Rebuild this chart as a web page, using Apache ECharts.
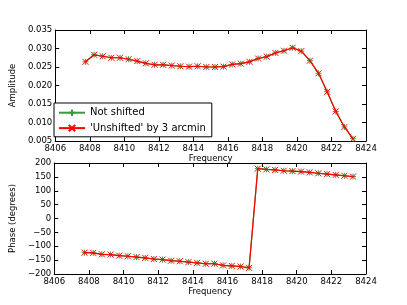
<!DOCTYPE html>
<html><head><meta charset="utf-8">
<script src="https://cdn.jsdelivr.net/npm/echarts@6/dist/echarts.min.js"></script>
<style>html,body{margin:0;padding:0;background:#fff}#c{width:407px;height:305px}</style>
</head><body><div id="c"></div>
<script>
const freq = [8407.75,8408.25,8408.75,8409.25,8409.75,8410.25,8410.75,8411.25,8411.75,8412.25,8412.75,8413.25,8413.75,8414.25,8414.75,8415.25,8415.75,8416.25,8416.75,8417.25,8417.75,8418.25,8418.75,8419.25,8419.75,8420.25,8420.75,8421.25,8421.75,8422.25,8422.75,8423.25];
const amplitude = [0.0264,0.0283,0.0279,0.0275,0.0275,0.0271,0.0266,0.0260,0.0256,0.0256,0.0254,0.0252,0.0251,0.0252,0.0250,0.0250,0.0251,0.0257,0.0259,0.0264,0.0273,0.0278,0.0288,0.0294,0.0302,0.0293,0.0267,0.0233,0.0183,0.0130,0.0088,0.0056];
const phase = [-123,-124,-129,-130,-134,-136,-139,-142,-146,-148,-152,-154,-157,-160,-163,-163,-169,-171,-173,-178,179.5,177,175,172,171,169,166,163,160,157,154,151];
const xTicks = [8406,8424,2];
const seriesNames = ['Not shifted', "'Unshifted' by 3 arcmin"];

const font = 'DejaVu Sans';
const plus = 'path://M5,0L5,10M0,5L10,5';
const cross = 'path://M0,0L10,10M10,0L0,10';
const pairs = arr => freq.map((f,i)=>[f,arr[i]]);

function xAx(gi, show, pos, name) {
  return {type:'value', gridIndex:gi, min:xTicks[0], max:xTicks[1], interval:xTicks[2], position:pos,
    name: name||'', nameLocation:'middle', nameGap:13, nameTextStyle:{fontFamily:font,fontSize:8.5,color:'#000'},
    axisLine:{show:true,onZero:false,lineStyle:{color:'#000',width:1}},
    axisTick:{show:true,inside:true,length:4,lineStyle:{color:'#000'}},
    axisLabel:{show:show,fontFamily:font,fontSize:8.5,color:'#000',margin:3,formatter:v=>String(v)},
    splitLine:{show:false}};
}
function yAx(gi, show, pos, min, max, interval, fmt, name) {
  return {type:'value', gridIndex:gi, min:min, max:max, interval:interval, position:pos,
    name: name||'', nameLocation:'middle', nameGap:26, nameTextStyle:{fontFamily:font,fontSize:8.5,color:'#000'},
    axisLine:{show:true,onZero:false,lineStyle:{color:'#000',width:1}},
    axisTick:{show:true,inside:true,length:4,lineStyle:{color:'#000'}},
    axisLabel:{show:show,fontFamily:font,fontSize:8.5,color:'#000',margin:3,formatter:fmt},
    splitLine:{show:false}};
}
function ser(name, xi, yi, data, color, sym) {
  return {name:name, type:'line', xAxisIndex:xi, yAxisIndex:yi, data:data,
    symbol:sym, symbolSize:6, showSymbol:true,
    lineStyle:{color:color,width:1.2},
    itemStyle:{color:'none',borderColor:color,borderWidth:1},
    emphasis:{disabled:true}, animation:false, z: color==='#ff0000'?3:2};
}

const chart = echarts.init(document.getElementById('c'), null, {renderer:'canvas'});
chart.setOption({
  animation:false,
  grid:[{left:51,top:30,width:315,height:111},{left:51,top:163,width:315,height:111}],
  xAxis:[xAx(0,true,'bottom','Frequency'), xAx(0,false,'top'), xAx(1,true,'bottom','Frequency'), xAx(1,false,'top')],
  yAxis:[yAx(0,true,'left',0.005,0.035,0.005,v=>v.toFixed(3),'Amplitude'), yAx(0,false,'right',0.005,0.035,0.005),
         yAx(1,true,'left',-200,200,50,v=>String(v).replace('-','\u2212'),'Phase (degrees)'), yAx(1,false,'right',-200,200,50)],
  legend:{show:true, orient:'vertical', left:54, top:103, width:152, padding:[4,6,3,4], itemGap:4,
    itemWidth:26, itemHeight:8, borderColor:'#000', borderWidth:1, backgroundColor:'#fff',
    textStyle:{fontFamily:font,fontSize:10,color:'#000'},
    data:seriesNames},
  series:[
    ser(seriesNames[0],0,0,pairs(amplitude),'#3a9a3a',plus),
    ser(seriesNames[1],0,0,pairs(amplitude),'#ff0000',cross),
    ser(seriesNames[0],2,2,pairs(phase),'#3a9a3a',plus),
    ser(seriesNames[1],2,2,pairs(phase),'#ff0000',cross)
  ]
});
</script></body></html>
